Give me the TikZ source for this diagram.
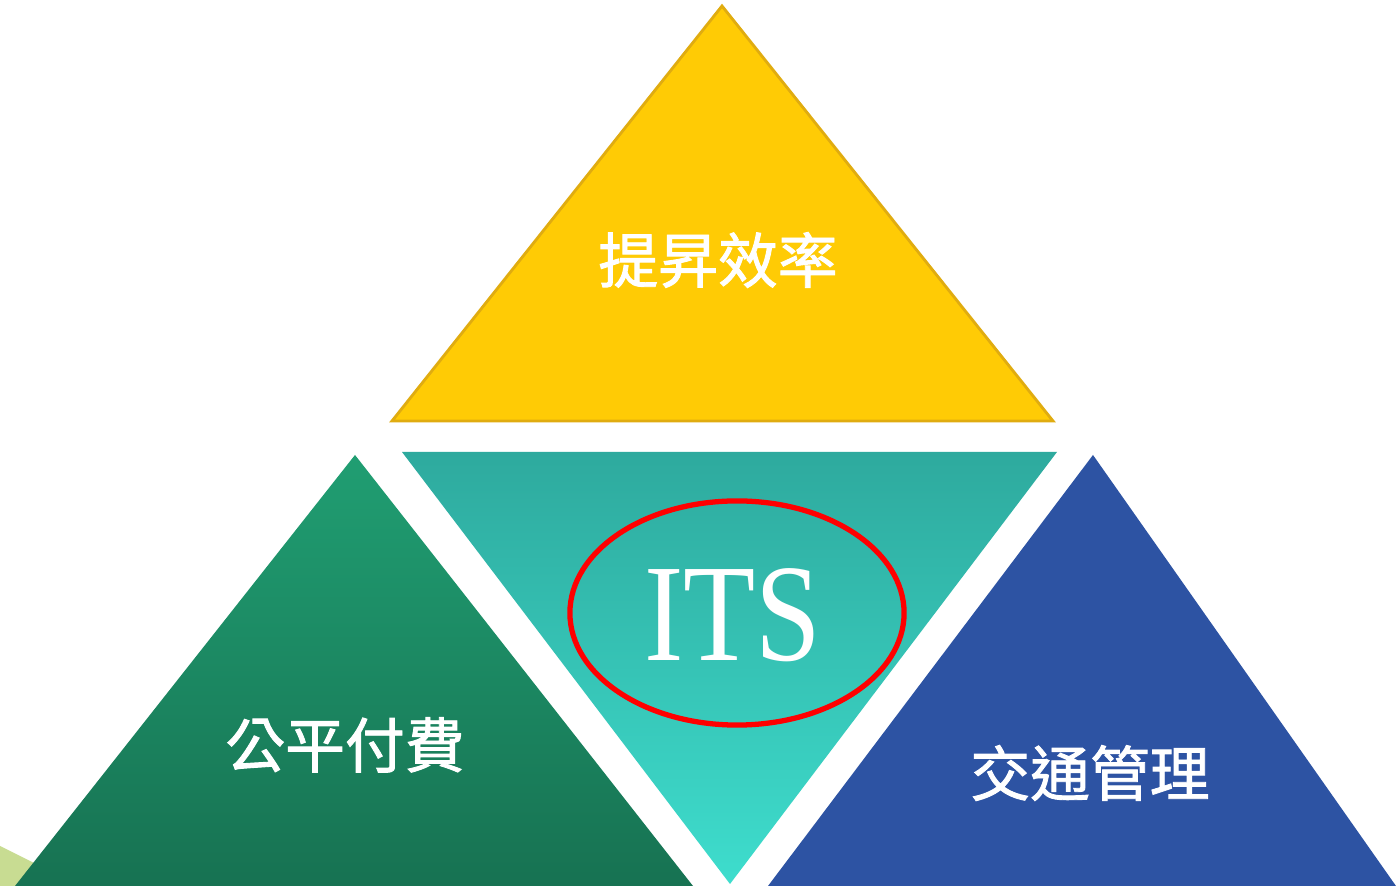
\documentclass[tikz,border=0pt]{standalone}
\usepackage{fontspec}
\usetikzlibrary{shapes.geometric}
\newfontfamily\cjk[AutoFakeBold=1.5]{Noto Sans CJK TC}
\newfontfamily\tnr{Liberation Serif}
\definecolor{ylw}{HTML}{FFCB05}
\definecolor{ylwdark}{HTML}{E0AC10}
\definecolor{tealtop}{HTML}{2EAA9E}
\definecolor{tealbot}{HTML}{3EDDCD}
\definecolor{grntop}{HTML}{209E72}
\definecolor{grnbot}{HTML}{177252}
\definecolor{blu}{HTML}{2D53A3}
\definecolor{lgrn}{HTML}{C8DC92}
\tikzset{
  lbl/.style={text=white, font=\cjk\bfseries\fontsize{17pt}{17pt}\selectfont},
  itslbl/.style={text=white, xscale=0.85, font=\tnr\fontsize{39.5pt}{40pt}\selectfont},
}
\begin{document}
\begin{tikzpicture}[x=0.01cm,y=-0.01cm]
\useasboundingbox (0,0) rectangle (1396,886);
\fill[white] (0,0) rectangle (1396,886);
% light green corner
\fill[lgrn] (0,846) -- (36,864) -- (18,886) -- (0,886) -- cycle;
% yellow
\fill[ylw, draw=ylwdark, line width=0.8pt] (722,6) -- (1053,421) -- (392,421) -- cycle;
% teal inverted
\shade[top color=tealtop, bottom color=tealbot] (402,452) -- (1057,452) -- (730,884) -- cycle;
% green
\shade[top color=grntop, bottom color=grnbot] (355,455) -- (693,886) -- (15,886) -- cycle;
% blue
\fill[blu] (1093,455) -- (1396,886) -- (768,886) -- cycle;
% texts
\node[lbl] (eff) at (718,260) {提昇效率};
\node[lbl] (fair) at (345,745) {公平付費};
\node[lbl] (traf) at (1090,773) {交通管理};
\node[itslbl] (its) at (733,615) {ITS};
\node[draw=red, line width=1.5pt, ellipse, inner sep=0pt, minimum width=3.34cm, minimum height=2.24cm] (ring) at (737,613) {};
\end{tikzpicture}
\end{document}
